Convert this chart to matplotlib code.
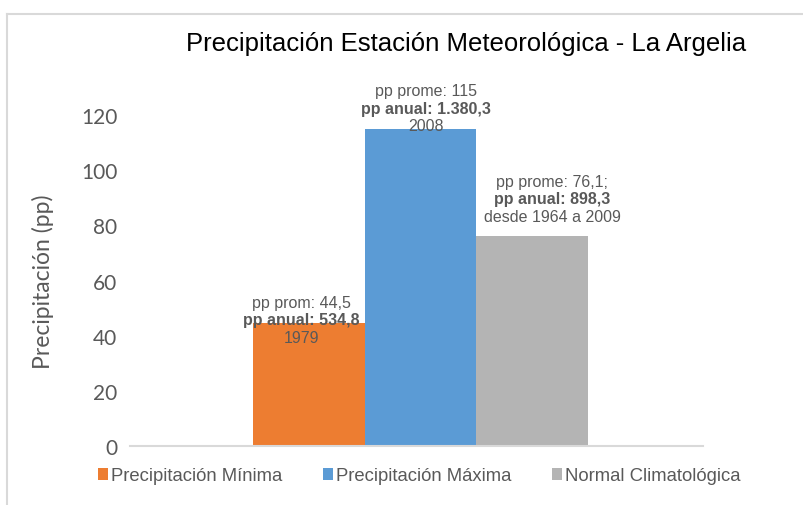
import matplotlib
matplotlib.use('Agg')
import matplotlib.pyplot as plt
from matplotlib.patches import Patch
from matplotlib.lines import Line2D

# Data
series = ['Precipitación Mínima', 'Precipitación Máxima', 'Normal Climatológica']
values = [44.5, 115, 76.1]
line_top = ['pp prom: 44,5', 'pp prome: 115', 'pp prome: 76,1;']
line_mid = ['pp anual: 534,8', 'pp anual: 1.380,3', 'pp anual: 898,3']
line_bot = ['1979', '2008', 'desde 1964 a 2009']
yticks = [0, 20, 40, 60, 80, 100, 120]

colors = ['#ED7D31', '#5B9BD5', '#B4B4B4']
label_dx = [-7, 6, 20]   # px shift of the labels from bar centre
label_dy = [-14, 3, 20]  # px offset of bottom label line from bar top
grey = '#595959'

fig = plt.figure(figsize=(8.04, 5.06), dpi=100)
ax = fig.add_axes([130 / 804, 59 / 506, 573 / 804, 331 / 506])

xpos = [0, 1, 2]
for i in range(3):
    ax.bar(xpos[i], values[i], width=1.0, color=colors[i], label=series[i], zorder=2)

ax.set_xlim(-1.60, 3.53)
ax.set_ylim(0, 120)
ax.set_yticks(yticks)
ax.set_xticks([])
for s in ['top', 'right', 'left']:
    ax.spines[s].set_visible(False)
ax.spines['bottom'].set_color('#D9D9D9')
ax.spines['bottom'].set_linewidth(1.5)
ax.tick_params(axis='y', length=0, pad=9, labelsize=15, labelcolor=grey)
for t in ax.get_yticklabels():
    t.set_fontfamily('Lato')

ax.set_ylabel('Precipitación (pp)', fontsize=16.5, color=grey, family='Lato')
ax.yaxis.set_label_coords((54 - 130) / 573, 0.5)

# data labels
pt = 72 / 100
for i in range(3):
    d = label_dy[i]
    for k, (txt, w) in enumerate([(line_bot[i], 'normal'), (line_mid[i], 'bold'), (line_top[i], 'normal')]):
        ax.annotate(txt, (xpos[i], values[i]), xytext=(label_dx[i] * pt, (d + 17.5 * k) * pt),
                    textcoords='offset points', ha='center', va='center',
                    fontsize=11.5, fontweight=w, color=grey, family='Liberation Sans',
                    annotation_clip=False, zorder=3)

fig.text((180 + 752) / 2 / 804, 1 - 44 / 506, 'Precipitación Estación Meteorológica - La Argelia',
         ha='center', va='center', fontsize=18.5, family='Liberation Sans', color='black')

handles = [Patch(facecolor=c, edgecolor='none') for c in colors]
fig.legend(handles, series, loc='center', bbox_to_anchor=(419 / 804, 1 - 477 / 506), ncol=3,
           frameon=False, prop={'family': 'Liberation Sans', 'size': 13.3},
           labelcolor=grey, handlelength=0.55, handleheight=0.55, handletextpad=0.15,
           columnspacing=2.2, borderpad=0)

# chart border (left and top)
fig.add_artist(Line2D([7 / 804, 7 / 804], [0, 1 - 15 / 506], color='#D9D9D9', lw=1.5, transform=fig.transFigure))
fig.add_artist(Line2D([7 / 804, 1], [1 - 15 / 506, 1 - 15 / 506], color='#D9D9D9', lw=1.5, transform=fig.transFigure))

fig.savefig('out.png', dpi=100)
